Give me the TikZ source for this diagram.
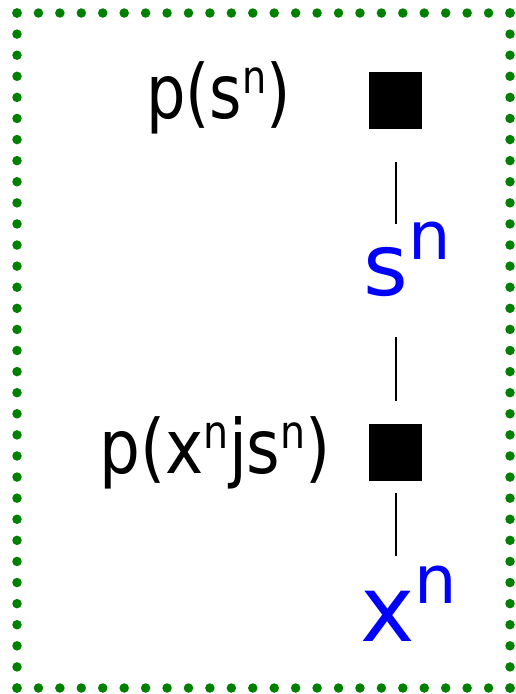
\documentclass[tikz,border=0pt]{standalone}
\usepackage{fontspec}
\setmainfont{DejaVu Sans}
\newfontfamily\blkfont{DejaVu Sans}[FakeStretch=0.83]
\newfontfamily\blkfontw{DejaVu Sans}[FakeStretch=0.86]
\definecolor{dotgreen}{RGB}{0,128,0}
\newcommand\blksup[1]{\raisebox{25pt}{\fontsize{46}{46}\selectfont #1}}
\begin{document}
\begin{tikzpicture}[x=1pt,y=-1pt,
  factor/.style={fill=black,draw=none,minimum width=53pt,minimum height=57pt,inner sep=0pt},
  blklabel/.style={anchor=base east,inner sep=0pt},
  varlabel/.style={anchor=base west,inner sep=0pt,text=blue},
  edge/.style={line width=2pt,black},
  hdots/.style={dotgreen,line width=9.5pt,line cap=round,dash pattern=on 0pt off 21.435pt},
  vdots/.style={dotgreen,line width=9.5pt,line cap=round,dash pattern=on 0pt off 21.094pt}]
\useasboundingbox (0,0) rectangle (515,694);
\coordinate (c1) at (17,13); \coordinate (c2) at (510,13);
\coordinate (c3) at (510,688); \coordinate (c4) at (17,688);
\draw[hdots] (c1) -- ([xshift=0.05pt]c2);
\draw[hdots] (c4) -- ([xshift=0.05pt]c3);
\draw[vdots] (c1) -- ([yshift=-0.05pt]c4);
\draw[vdots] (c2) -- ([yshift=-0.05pt]c3);
\node[factor] (f1) at (395.8,100.7) {};
\node[factor] (f2) at (395.8,452.7) {};
\node[blklabel,font=\blkfont\fontsize{75}{75}\selectfont] (l1) at (291,118.3) {p(s\blksup{n})};
\node[blklabel,font=\blkfontw\fontsize{75}{75}\selectfont] (l2) at (331,473.3) {p(x\blksup{n}js\blksup{n})};
\node[varlabel] (s) at (363,295) {\fontsize{86}{86}\selectfont s\raisebox{36pt}{\fontsize{67}{67}\selectfont n}};
\node[varlabel] (x) at (360,641.7) {\fontsize{92}{92}\selectfont x\raisebox{38pt}{\fontsize{67}{67}\selectfont n}};
\coordinate (e1a) at (396.3,161.7); \coordinate (e1b) at (396.3,224.3);
\coordinate (e2a) at (396.3,337.3); \coordinate (e2b) at (396.3,400.7);
\coordinate (e3a) at (396.3,493);   \coordinate (e3b) at (396.3,556);
\draw[edge] (e1a) -- (e1b);
\draw[edge] (e2a) -- (e2b);
\draw[edge] (e3a) -- (e3b);
\end{tikzpicture}
\end{document}
